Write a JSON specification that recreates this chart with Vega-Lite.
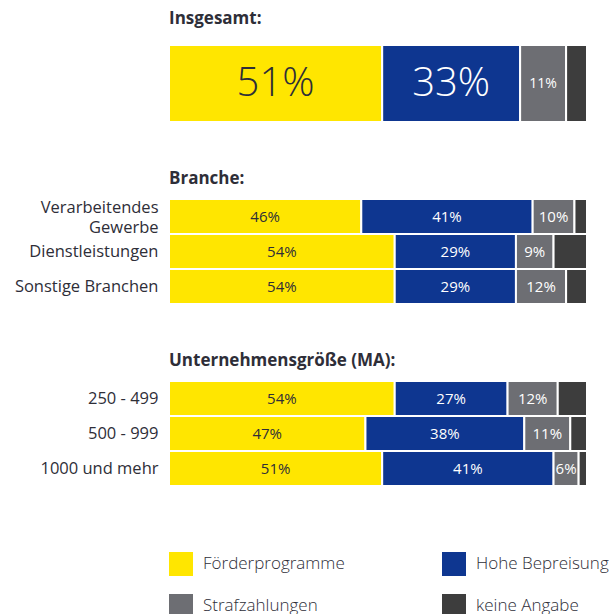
{
  "$schema": "https://vega.github.io/schema/vega-lite/v6.json",
  "background": "white",
  "padding": {"left": 0, "top": 10, "right": 0, "bottom": 0},
  "spacing": 47,
  "config": {
    "view": {"stroke": null},
    "font": "Open Sans",
    "title": {"anchor": "start", "frame": "group", "fontSize": 17, "fontWeight": "bold", "color": "#2e2e38", "font": "Open Sans"},
    "axis": {"labelFont": "Open Sans", "labelFontSize": 16.5, "labelFontWeight": 400, "labelColor": "#2e2e38", "labelPadding": 11, "ticks": false, "domain": false, "minExtent": 169, "maxExtent": 169, "labelLineHeight": 20, "labelLimit": 200}
  },
  "datasets": {
    "d": [
      {"grp": "Insgesamt", "cat": "Insgesamt", "kat": "Förderprogramme", "value": 51, "label": "51%"},
      {"grp": "Insgesamt", "cat": "Insgesamt", "kat": "Hohe Bepreisung", "value": 33, "label": "33%"},
      {"grp": "Insgesamt", "cat": "Insgesamt", "kat": "Strafzahlungen", "value": 11, "label": "11%"},
      {"grp": "Insgesamt", "cat": "Insgesamt", "kat": "keine Angabe", "value": 5, "label": ""},
      {"grp": "Branche", "cat": "Verarbeitendes Gewerbe", "kat": "Förderprogramme", "value": 46, "label": "46%"},
      {"grp": "Branche", "cat": "Verarbeitendes Gewerbe", "kat": "Hohe Bepreisung", "value": 41, "label": "41%"},
      {"grp": "Branche", "cat": "Verarbeitendes Gewerbe", "kat": "Strafzahlungen", "value": 10, "label": "10%"},
      {"grp": "Branche", "cat": "Verarbeitendes Gewerbe", "kat": "keine Angabe", "value": 3, "label": ""},
      {"grp": "Branche", "cat": "Dienstleistungen", "kat": "Förderprogramme", "value": 54, "label": "54%"},
      {"grp": "Branche", "cat": "Dienstleistungen", "kat": "Hohe Bepreisung", "value": 29, "label": "29%"},
      {"grp": "Branche", "cat": "Dienstleistungen", "kat": "Strafzahlungen", "value": 9, "label": "9%"},
      {"grp": "Branche", "cat": "Dienstleistungen", "kat": "keine Angabe", "value": 8, "label": ""},
      {"grp": "Branche", "cat": "Sonstige Branchen", "kat": "Förderprogramme", "value": 54, "label": "54%"},
      {"grp": "Branche", "cat": "Sonstige Branchen", "kat": "Hohe Bepreisung", "value": 29, "label": "29%"},
      {"grp": "Branche", "cat": "Sonstige Branchen", "kat": "Strafzahlungen", "value": 12, "label": "12%"},
      {"grp": "Branche", "cat": "Sonstige Branchen", "kat": "keine Angabe", "value": 5, "label": ""},
      {"grp": "Größe", "cat": "250 - 499", "kat": "Förderprogramme", "value": 54, "label": "54%"},
      {"grp": "Größe", "cat": "250 - 499", "kat": "Hohe Bepreisung", "value": 27, "label": "27%"},
      {"grp": "Größe", "cat": "250 - 499", "kat": "Strafzahlungen", "value": 12, "label": "12%"},
      {"grp": "Größe", "cat": "250 - 499", "kat": "keine Angabe", "value": 7, "label": ""},
      {"grp": "Größe", "cat": "500 - 999", "kat": "Förderprogramme", "value": 47, "label": "47%"},
      {"grp": "Größe", "cat": "500 - 999", "kat": "Hohe Bepreisung", "value": 38, "label": "38%"},
      {"grp": "Größe", "cat": "500 - 999", "kat": "Strafzahlungen", "value": 11, "label": "11%"},
      {"grp": "Größe", "cat": "500 - 999", "kat": "keine Angabe", "value": 4, "label": ""},
      {"grp": "Größe", "cat": "1000 und mehr", "kat": "Förderprogramme", "value": 51, "label": "51%"},
      {"grp": "Größe", "cat": "1000 und mehr", "kat": "Hohe Bepreisung", "value": 41, "label": "41%"},
      {"grp": "Größe", "cat": "1000 und mehr", "kat": "Strafzahlungen", "value": 6, "label": "6%"},
      {"grp": "Größe", "cat": "1000 und mehr", "kat": "keine Angabe", "value": 2, "label": ""}
    ]
  },
  "vconcat": [
    {
      "title": {"text": "Insgesamt:", "offset": 16},
      "width": 418,
      "height": 77,
      "data": {"name": "d"},
      "transform": [{"filter": "datum.grp === 'Insgesamt'"}],
      "encoding": {
        "y": {"field": "cat", "type": "nominal", "sort": null, "title": null, "scale": {"paddingInner": 0, "paddingOuter": 0}, "axis": {"labels": false}}
      },
      "layer": [
        {
          "mark": {"type": "bar", "stroke": "white", "strokeWidth": 2},
          "encoding": {
            "x": {"field": "value", "type": "quantitative", "stack": "zero", "scale": {"domain": [0, 100]}, "axis": null},
            "order": {"field": "kat", "sort": "ascending"},
            "color": {
              "field": "kat", "type": "nominal",
              "scale": {"domain": ["Förderprogramme", "Hohe Bepreisung", "Strafzahlungen", "keine Angabe"], "range": ["#FFE600", "#0E3690", "#6D6E73", "#3D3D3D"]},
              "legend": {"orient": "none", "legendX": 0, "legendY": 507, "columns": 2, "direction": "horizontal", "title": null, "symbolType": "square", "symbolSize": 576, "symbolStrokeWidth": 0, "symbolOpacity": 1, "labelFontSize": 17, "labelFont": "Open Sans", "labelFontWeight": 300, "labelColor": "#2e2e38", "labelOffset": 10, "columnPadding": 97, "rowPadding": 18, "labelLimit": 300}
            }
          }
        },
        {
          "mark": {"type": "text", "fontWeight": 300, "font": "Open Sans", "align": "center", "fontSize": 40},
          "encoding": {
            "x": {"field": "value", "type": "quantitative", "stack": "zero", "bandPosition": 0.5},
            "detail": {"field": "kat"},
            "order": {"field": "kat", "sort": "ascending"},
            "text": {"condition": {"test": "datum.value > 20", "field": "label"}, "value": ""},
            "color": {"condition": {"test": "datum.kat === 'Förderprogramme'", "value": "#2e2e38"}, "value": "white"}
          }
        },
        {
          "mark": {"type": "text", "fontWeight": 400, "font": "Open Sans", "align": "center", "fontSize": 14},
          "encoding": {
            "x": {"field": "value", "type": "quantitative", "stack": "zero", "bandPosition": 0.5},
            "detail": {"field": "kat"},
            "order": {"field": "kat", "sort": "ascending"},
            "text": {"condition": {"test": "datum.value <= 20", "field": "label"}, "value": ""},
            "color": {"value": "white"}
          }
        }
      ]
    },
    {
      "title": {"text": "Branche:", "offset": 10},
      "width": 418,
      "height": 105,
      "data": {"name": "d"},
      "transform": [{"filter": "datum.grp === 'Branche'"}],
      "encoding": {
        "y": {"field": "cat", "type": "nominal", "sort": null, "title": null, "scale": {"paddingInner": 0, "paddingOuter": 0}, "axis": {"labelExpr": "datum.label === 'Verarbeitendes Gewerbe' ? ['Verarbeitendes', 'Gewerbe'] : datum.label", "labelOffset": {"condition": {"test": "datum.value === 'Verarbeitendes Gewerbe'", "value": -9}, "value": 0}}}
      },
      "layer": [
        {
          "mark": {"type": "bar", "stroke": "white", "strokeWidth": 2},
          "encoding": {
            "x": {"field": "value", "type": "quantitative", "stack": "zero", "scale": {"domain": [0, 100]}, "axis": null},
            "order": {"field": "kat", "sort": "ascending"},
            "color": {"field": "kat", "type": "nominal"}
          }
        },
        {
          "mark": {"type": "text", "fontWeight": 400, "font": "Open Sans", "fontSize": 15, "align": "center"},
          "encoding": {
            "x": {"field": "value", "type": "quantitative", "stack": "zero", "bandPosition": 0.5},
            "detail": {"field": "kat"},
            "order": {"field": "kat", "sort": "ascending"},
            "text": {"field": "label"},
            "color": {"condition": {"test": "datum.kat === 'Förderprogramme'", "value": "#2e2e38"}, "value": "white"}
          }
        }
      ]
    },
    {
      "title": {"text": "Unternehmensgröße (MA):", "offset": 10},
      "width": 418,
      "height": 105,
      "data": {"name": "d"},
      "transform": [{"filter": "datum.grp === 'Größe'"}],
      "encoding": {
        "y": {"field": "cat", "type": "nominal", "sort": null, "title": null, "scale": {"paddingInner": 0, "paddingOuter": 0}}
      },
      "layer": [
        {
          "mark": {"type": "bar", "stroke": "white", "strokeWidth": 2},
          "encoding": {
            "x": {"field": "value", "type": "quantitative", "stack": "zero", "scale": {"domain": [0, 100]}, "axis": null},
            "order": {"field": "kat", "sort": "ascending"},
            "color": {"field": "kat", "type": "nominal"}
          }
        },
        {
          "mark": {"type": "text", "fontWeight": 400, "font": "Open Sans", "fontSize": 15, "align": "center"},
          "encoding": {
            "x": {"field": "value", "type": "quantitative", "stack": "zero", "bandPosition": 0.5},
            "detail": {"field": "kat"},
            "order": {"field": "kat", "sort": "ascending"},
            "text": {"field": "label"},
            "color": {"condition": {"test": "datum.kat === 'Förderprogramme'", "value": "#2e2e38"}, "value": "white"}
          }
        }
      ]
    }
  ]
}
